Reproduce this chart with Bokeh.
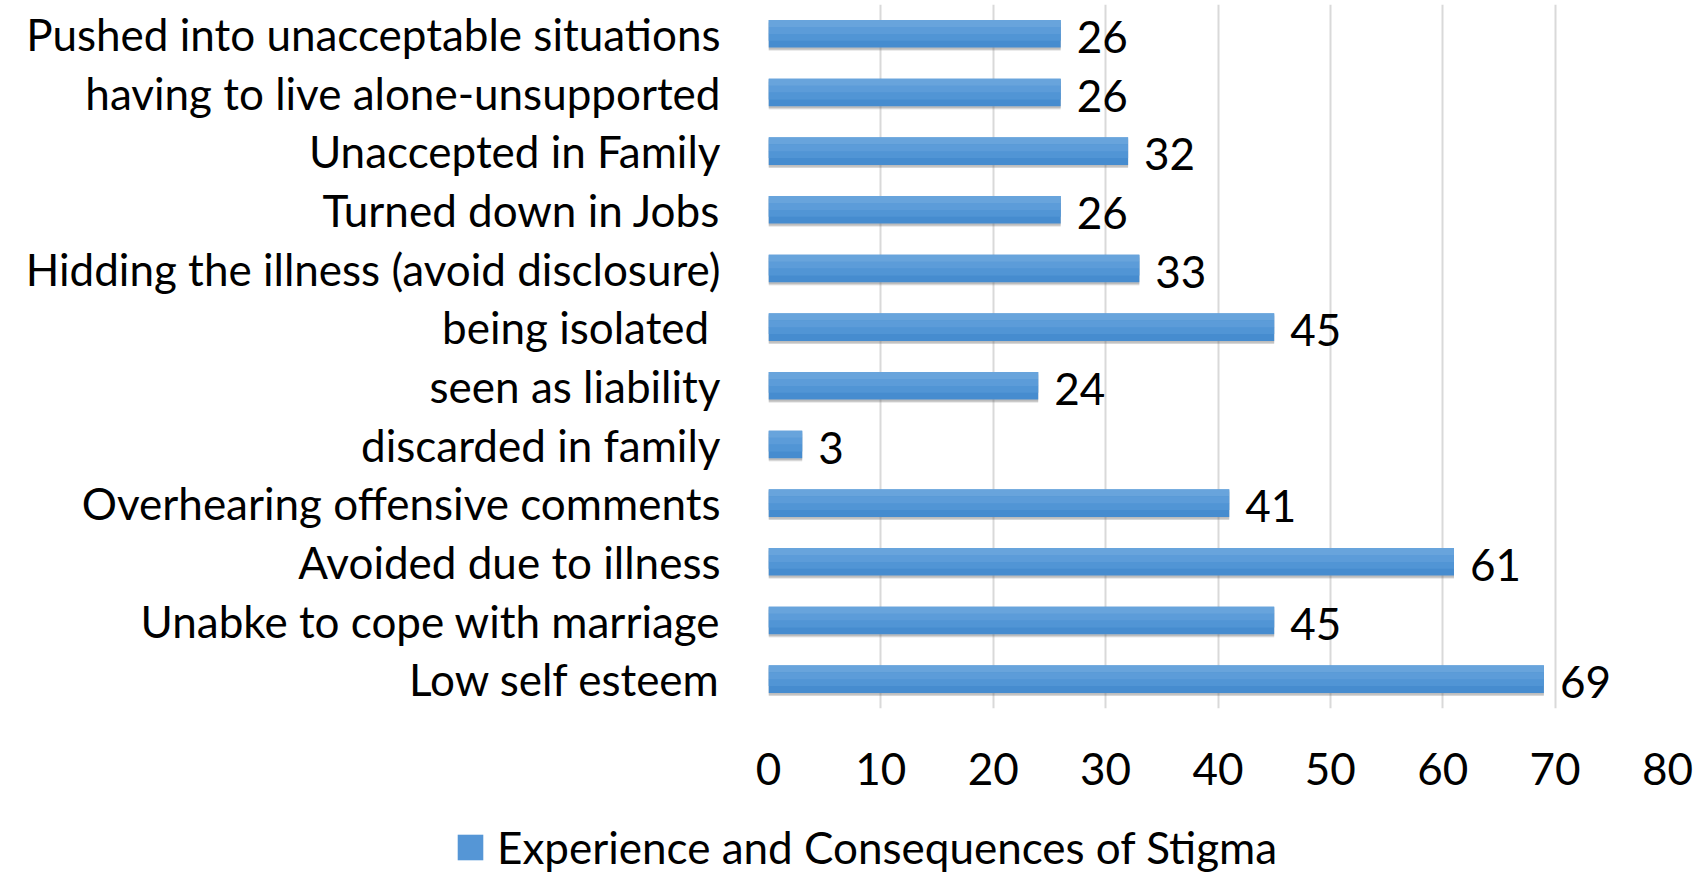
from bokeh.plotting import figure
from bokeh.models import ColumnDataSource, FactorRange, Legend, LegendItem, SingleIntervalTicker
from bokeh.transform import dodge
from bokeh.core.properties import value
from bokeh.embed import file_html
from bokeh.resources import INLINE

# Data (top to bottom as in the chart)
categories = [
    "Pushed into unacceptable situations",
    "having to live alone-unsupported",
    "Unaccepted in Family",
    "Turned down in Jobs",
    "Hidding the illness (avoid disclosure)",
    "being isolated ",
    "seen as liability",
    "discarded in family",
    "Overhearing offensive comments",
    "Avoided due to illness",
    "Unabke to cope with marriage",
    "Low self esteem",
]
values = [26, 26, 32, 26, 33, 45, 24, 3, 41, 61, 45, 69]
series_name = "Experience and Consequences of Stigma"
x_ticks = [0, 10, 20, 30, 40, 50, 60, 70, 80]

FONT = "Lato"
src = ColumnDataSource(dict(cat=categories, val=values, lbl=[str(v) for v in values]))

p = figure(
    width=1693, height=800,
    y_range=FactorRange(factors=list(reversed(categories))),
    x_range=(x_ticks[0], x_ticks[-1]),
    output_backend="svg", toolbar_location=None,
    min_border_left=768, min_border_right=26, min_border_top=4, min_border_bottom=92,
)
p.outline_line_color = None
p.background_fill_color = "white"

BAR_H = 0.47
# shadow
p.hbar(y=dodge("cat", -0.05, range=p.y_range), left=0, right="val", height=BAR_H,
       fill_color="#6f6f6f", fill_alpha=0.28, line_color=None, source=src)
p.hbar(y=dodge("cat", -0.03, range=p.y_range), left=0, right="val", height=BAR_H,
       fill_color="#6f6f6f", fill_alpha=0.25, line_color=None, source=src)
# bar body (vertical gradient impression: 4 bands, light at top)
band_colors = ["#468ccf", "#5195d5", "#5c9cd9", "#68a4dc"]
p.hbar(y="cat", left=0, right="val", height=BAR_H, fill_color=band_colors[0],
       line_color=None, source=src)
band_h = BAR_H / 4
for i, c in enumerate(band_colors[1:], start=1):
    off = -BAR_H / 2 + band_h * i + band_h / 2
    p.hbar(y=dodge("cat", off, range=p.y_range), left=0, right="val", height=band_h + 0.002,
           fill_color=c, line_color=None, source=src)

p.text(x="val", y="cat", text="lbl", source=src, x_offset=16, y_offset=3,
       text_baseline="middle", text_align="left",
       text_font=value(FONT), text_font_size="44px", text_color="#000000")

p.xgrid.grid_line_color = "#d9d9d9"
p.xgrid.grid_line_width = 2
p.ygrid.grid_line_color = None
p.xaxis.ticker = SingleIntervalTicker(interval=10)
p.xaxis.axis_line_color = None
p.xaxis.major_tick_line_color = None
p.xaxis.minor_tick_line_color = None
p.xaxis.major_label_standoff = 38
p.yaxis.axis_line_color = None
p.yaxis.major_tick_line_color = None
p.yaxis.minor_tick_line_color = None
p.yaxis.major_label_standoff = 42
for ax in (p.xaxis, p.yaxis):
    ax.major_label_text_font = FONT
    ax.major_label_text_font_size = "44px"
    ax.major_label_text_color = "#000000"

# Legend strip below the chart (separate root so its frame spans the full width)
lg = figure(width=1693, height=73, x_range=(0, 1), y_range=(0, 1),
            output_backend="svg", toolbar_location=None,
            min_border=0, min_border_left=0, min_border_right=0,
            min_border_top=0, min_border_bottom=0)
lg.axis.visible = False
lg.grid.visible = False
lg.outline_line_color = None
# legend swatch renderer (kept outside the visible y range, only its legend glyph shows)
lr = lg.hbar(y=[-5], left=[0], right=[1], height=0.5, fill_color="#5596d6", line_color=None)
legend = Legend(items=[LegendItem(label=series_name, renderers=[lr])],
                location=(454, 0), orientation="horizontal",
                glyph_width=32, glyph_height=32, label_text_font=FONT,
                label_text_font_size="44px", label_text_color="#000000",
                label_text_baseline="middle",
                border_line_color=None, background_fill_alpha=0, padding=0, margin=0,
                label_standoff=11)
lg.add_layout(legend, "center")

open("out.html", "w").write(file_html([p, lg], INLINE))
